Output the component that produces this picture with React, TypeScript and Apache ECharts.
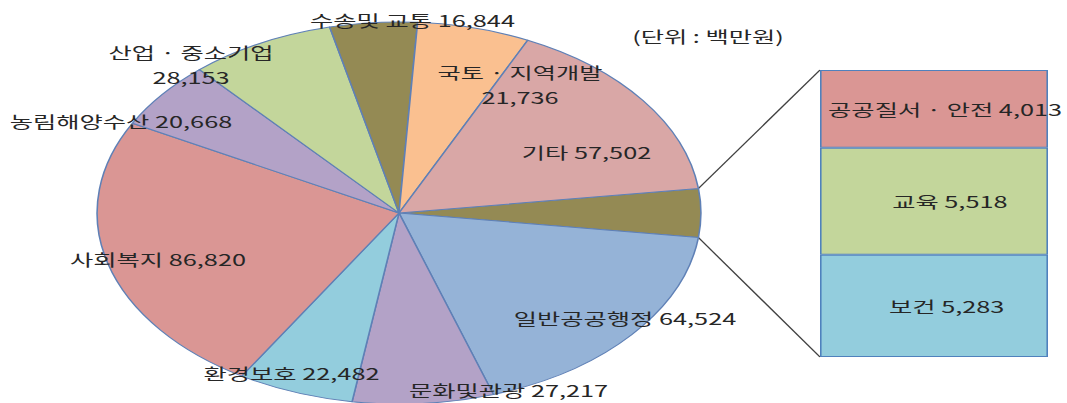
import React, { useEffect, useRef } from 'react';
import * as echarts from 'echarts';

// ---------- data ----------
const pieNames = ['일반공공행정', '문화및관광', '환경보호', '사회복지', '농림해양수산', '산업 · 중소기업', '수송및 교통', '국토 · 지역개발', '기타'];
const pieValues = [64524, 27217, 22482, 86820, 20668, 28153, 16844, 21736, 57502];
const wrappedNames = ['산업 · 중소기업', '국토 · 지역개발'];
const barNames = ['공공질서 · 안전', '교육', '보건'];
const barValues = [4013, 5518, 5283];
const otherName = '기타 세부';
const unitLabel = '(단위 : 백만원)';

// ---------- styles / layout ----------
const pieColors = ['#95B3D7', '#B3A2C7', '#93CDDD', '#DA9694', '#B3A2C7', '#C3D69B', '#948A54', '#FAC090', '#D9A7A6'];
const otherColor = '#948A54';
const barColors = ['#DA9694', '#C3D69B', '#93CDDD'];
const FONT = '"Noto Sans CJK KR", "Noto Sans", sans-serif';
const TEXT = '#262626';

const OUT_W = 1067;
const H = 403;
const W = 675;
const SX = OUT_W / W;
const CX = 399 / SX;
const CY = 213;
const R = 191;
const BAR_L = 820 / SX;
const BAR_R = 1048 / SX;
const BAR_T = 70;
const BAR_B = 357;

// label centres in picture coordinates (x stretched)
const pieLabelPos = [
  [625, 318], [508.5, 390], [291.5, 373], [158, 259], [121, 121],
  [191, 64], [412.5, 20], [520, 84.5], [586.5, 152],
];
const barLabelOffset = [7, 10, 8];

const fmt = (v: number) => v.toLocaleString('en-US');

export default function App() {
  const ref = useRef<HTMLDivElement>(null);
  useEffect(() => {
    if (!ref.current) return;
    const chart = echarts.init(ref.current, null, { renderer: 'svg' });
    const otherValue = barValues.reduce((a, b) => a + b, 0);
    const total = pieValues.reduce((a, b) => a + b, 0) + otherValue;
    const otherDeg = (otherValue / total) * 360;
    const half = (otherDeg / 2) * Math.PI / 180;
    const px = CX + R * Math.cos(half);
    const pyTop = CY - R * Math.sin(half);
    const pyBot = CY + R * Math.sin(half);

    const pieData = [
      { name: otherName, value: otherValue, itemStyle: { color: otherColor }, label: { show: false } },
      ...pieNames.map((n, i) => ({ name: n, value: pieValues[i], itemStyle: { color: pieColors[i] } })),
    ];

    const barOrder = [2, 1, 0]; // bottom to top
    const barSeries = barOrder.map((idx) => ({
      type: 'bar',
      name: barNames[idx],
      stack: 'other',
      xAxisIndex: 0,
      yAxisIndex: 0,
      barWidth: '100%',
      silent: true,
      data: [barValues[idx]],
      itemStyle: { color: barColors[idx], borderColor: '#4F81BD', borderWidth: 1 },
      label: {
        show: true,
        position: 'inside',
        offset: [barLabelOffset[idx], 0],
        color: TEXT,
        fontSize: 16,
        fontFamily: FONT,
        formatter: () => `${barNames[idx]} ${fmt(barValues[idx])}`,
      },
    }));

    chart.setOption({
      animation: false,
      grid: { left: BAR_L, top: BAR_T, width: BAR_R - BAR_L, height: BAR_B - BAR_T, containLabel: false },
      xAxis: { type: 'category', data: [otherName], show: false },
      yAxis: { type: 'value', min: 0, max: otherValue, show: false },
      series: [
        {
          type: 'pie',
          center: [CX, CY],
          radius: R,
          startAngle: otherDeg / 2,
          clockwise: true,
          avoidLabelOverlap: false,
          silent: true,
          itemStyle: { borderColor: '#5F80B6', borderWidth: 1 },
          label: {
            show: true,
            position: 'inside',
            color: TEXT,
            fontSize: 16,
            fontFamily: FONT,
            lineHeight: 25,
            formatter: (p: any) =>
              wrappedNames.includes(p.name) ? `${p.name}\n${fmt(p.value)}` : `${p.name} ${fmt(p.value)}`,
          },
          labelLine: { show: false },
          labelLayout: (p: any) => {
            if (p.dataIndex === 0) return {};
            const pos = pieLabelPos[p.dataIndex - 1];
            return { x: pos[0] / SX, y: pos[1], align: 'center', verticalAlign: 'middle' };
          },
          data: pieData,
        },
        ...barSeries,
      ],
      graphic: [
        {
          type: 'line',
          silent: true,
          shape: { x1: px, y1: pyTop, x2: BAR_L, y2: BAR_T },
          style: { stroke: '#404040', lineWidth: 1 },
        },
        {
          type: 'line',
          silent: true,
          shape: { x1: px, y1: pyBot, x2: BAR_L, y2: BAR_B },
          style: { stroke: '#404040', lineWidth: 1 },
        },
        {
          type: 'text',
          x: 708 / SX,
          y: 36,
          silent: true,
          style: { text: unitLabel, fontSize: 16, fontFamily: FONT, fill: TEXT, align: 'center', verticalAlign: 'middle' },
        },
      ],
    });
    return () => chart.dispose();
  }, []);

  return (
    <div
      style={{
        position: 'fixed',
        left: 0,
        top: 0,
        width: OUT_W,
        height: H,
        overflow: 'hidden',
        background: '#fff',
      }}
    >
      <div
        ref={ref}
        style={{ width: W, height: H, transform: `scaleX(${SX})`, transformOrigin: '0 0' }}
      />
    </div>
  );
}
